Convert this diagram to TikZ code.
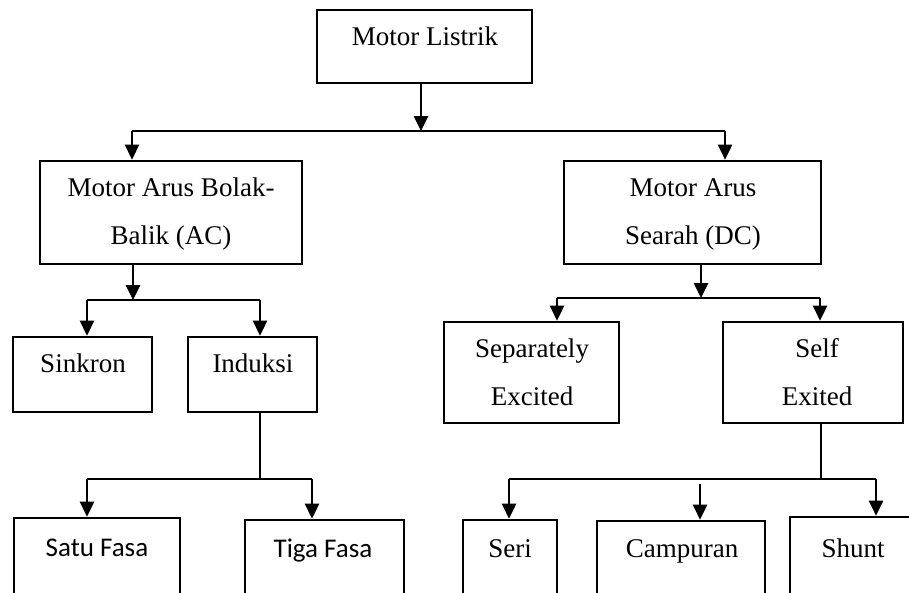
\documentclass[tikz,border=0pt]{standalone}
\usepackage{fontspec}
\setmainfont{Liberation Serif}
\newfontfamily\calib{Carlito}
\usetikzlibrary{arrows.meta}
\begin{document}
\begin{tikzpicture}[x=1pt,y=-1pt,
  box/.style={draw=black,line width=2.6pt,minimum width=#1,inner sep=0pt},
  lbl/.style={font=\fontsize{27}{48}\selectfont,align=center,inner sep=0pt,anchor=center},
  blbl/.style={font=\fontsize{27}{48}\selectfont,inner sep=0pt,anchor=base},
  slbl/.style={font=\calib\fontsize{27}{48}\selectfont,inner sep=0pt,anchor=base},
  conn/.style={line width=2.6pt,line join=miter},
  arr/.style={conn,-{Triangle[length=15pt,width=14pt]}}]
\useasboundingbox (0,0) rectangle (909,592);
\clip (0,0) rectangle (909,592);
% boxes
\node[box=215pt,minimum height=73pt] (listrik) at (424.5,46.5) {};
\node[box=262pt,minimum height=103pt] (ac) at (171,212.5) {};
\node[box=257pt,minimum height=103pt] (dc) at (692.5,212.5) {};
\node[box=139pt,minimum height=75pt] (sinkron) at (82.5,374.5) {};
\node[box=129pt,minimum height=75pt] (induksi) at (252.5,374.5) {};
\node[box=175pt,minimum height=101pt] (sep) at (531.5,372.5) {};
\node[box=180pt,minimum height=101pt] (self) at (813,372.5) {};
\node[box=166pt,minimum height=110pt] (satu) at (97,573) {};
\node[box=159pt,minimum height=110pt] (tiga) at (324.5,575) {};
\node[box=94pt,minimum height=110pt] (seri) at (510,575) {};
\node[box=168pt,minimum height=110pt] (campuran) at (681,576) {};
\node[box=150pt,minimum height=110pt] (shunt) at (865,572) {};
% texts
\node[blbl] (tlistrik) at (425,45) {Motor Listrik};
\node[lbl] (tac) at (171,214) {Motor Arus Bolak-\\Balik (AC)};
\node[lbl] (tdc) at (693,214) {Motor Arus\\Searah (DC)};
\node[blbl] (tsinkron) at (83,372) {Sinkron};
\node[blbl] (tinduksi) at (253,372) {Induksi};
\node[lbl] (tsep) at (532,372) {Separately\\Excited};
\node[lbl] (tself) at (817,372) {Self\\Exited};
\node[slbl] (tsatu) at (97,556) {Satu Fasa};
\node[slbl] (ttiga) at (323,557) {Tiga Fasa};
\node[blbl] (tseri) at (510,557) {Seri};
\node[blbl] (tcampuran) at (682,557) {Campuran};
\node[blbl] (tshunt) at (853,557) {Shunt};
% junction coordinates
\coordinate (j0) at (421,131);
\coordinate (j0l) at (132,131);
\coordinate (j0r) at (725,131);
\coordinate (j1) at (133,300);
\coordinate (j1l) at (87,300);
\coordinate (j1r) at (260,300);
\coordinate (j2) at (260,479);
\coordinate (j2l) at (87,479);
\coordinate (j2r) at (312,479);
\coordinate (j3) at (701,298);
\coordinate (j3l) at (557,298);
\coordinate (j3r) at (820,298);
\coordinate (j4) at (821,479);
\coordinate (j4l) at (509,479);
\coordinate (j4r) at (876,479);
\coordinate (j4m) at (700,484);
% connectors
\draw[arr] (listrik.south -| j0) -- (j0);
\draw[conn] (j0l) -- (j0r);
\draw[arr] (j0l) -- (j0l |- ac.north);
\draw[arr] (j0r) -- (j0r |- dc.north);
\draw[arr] (ac.south -| j1) -- (j1);
\draw[conn] (j1l) -- (j1r);
\draw[arr] (j1l) -- (j1l |- sinkron.north);
\draw[arr] (j1r) -- (j1r |- induksi.north);
\draw[conn] (induksi.south -| j2) -- (j2);
\draw[conn] (j2l) -- (j2r);
\draw[arr] (j2l) -- (j2l |- satu.north);
\draw[arr] (j2r) -- (j2r |- tiga.north);
\draw[arr] (dc.south -| j3) -- (j3);
\draw[conn] (j3l) -- (j3r);
\draw[arr] (j3l) -- (j3l |- sep.north);
\draw[arr] (j3r) -- (j3r |- self.north);
\draw[conn] (self.south -| j4) -- (j4);
\draw[conn] (j4l) -- (j4r);
\draw[arr] (j4l) -- (j4l |- seri.north);
\draw[arr] (j4m) -- (j4m |- campuran.north);
\draw[arr] (j4r) -- (j4r |- shunt.north);
\end{tikzpicture}
\end{document}
